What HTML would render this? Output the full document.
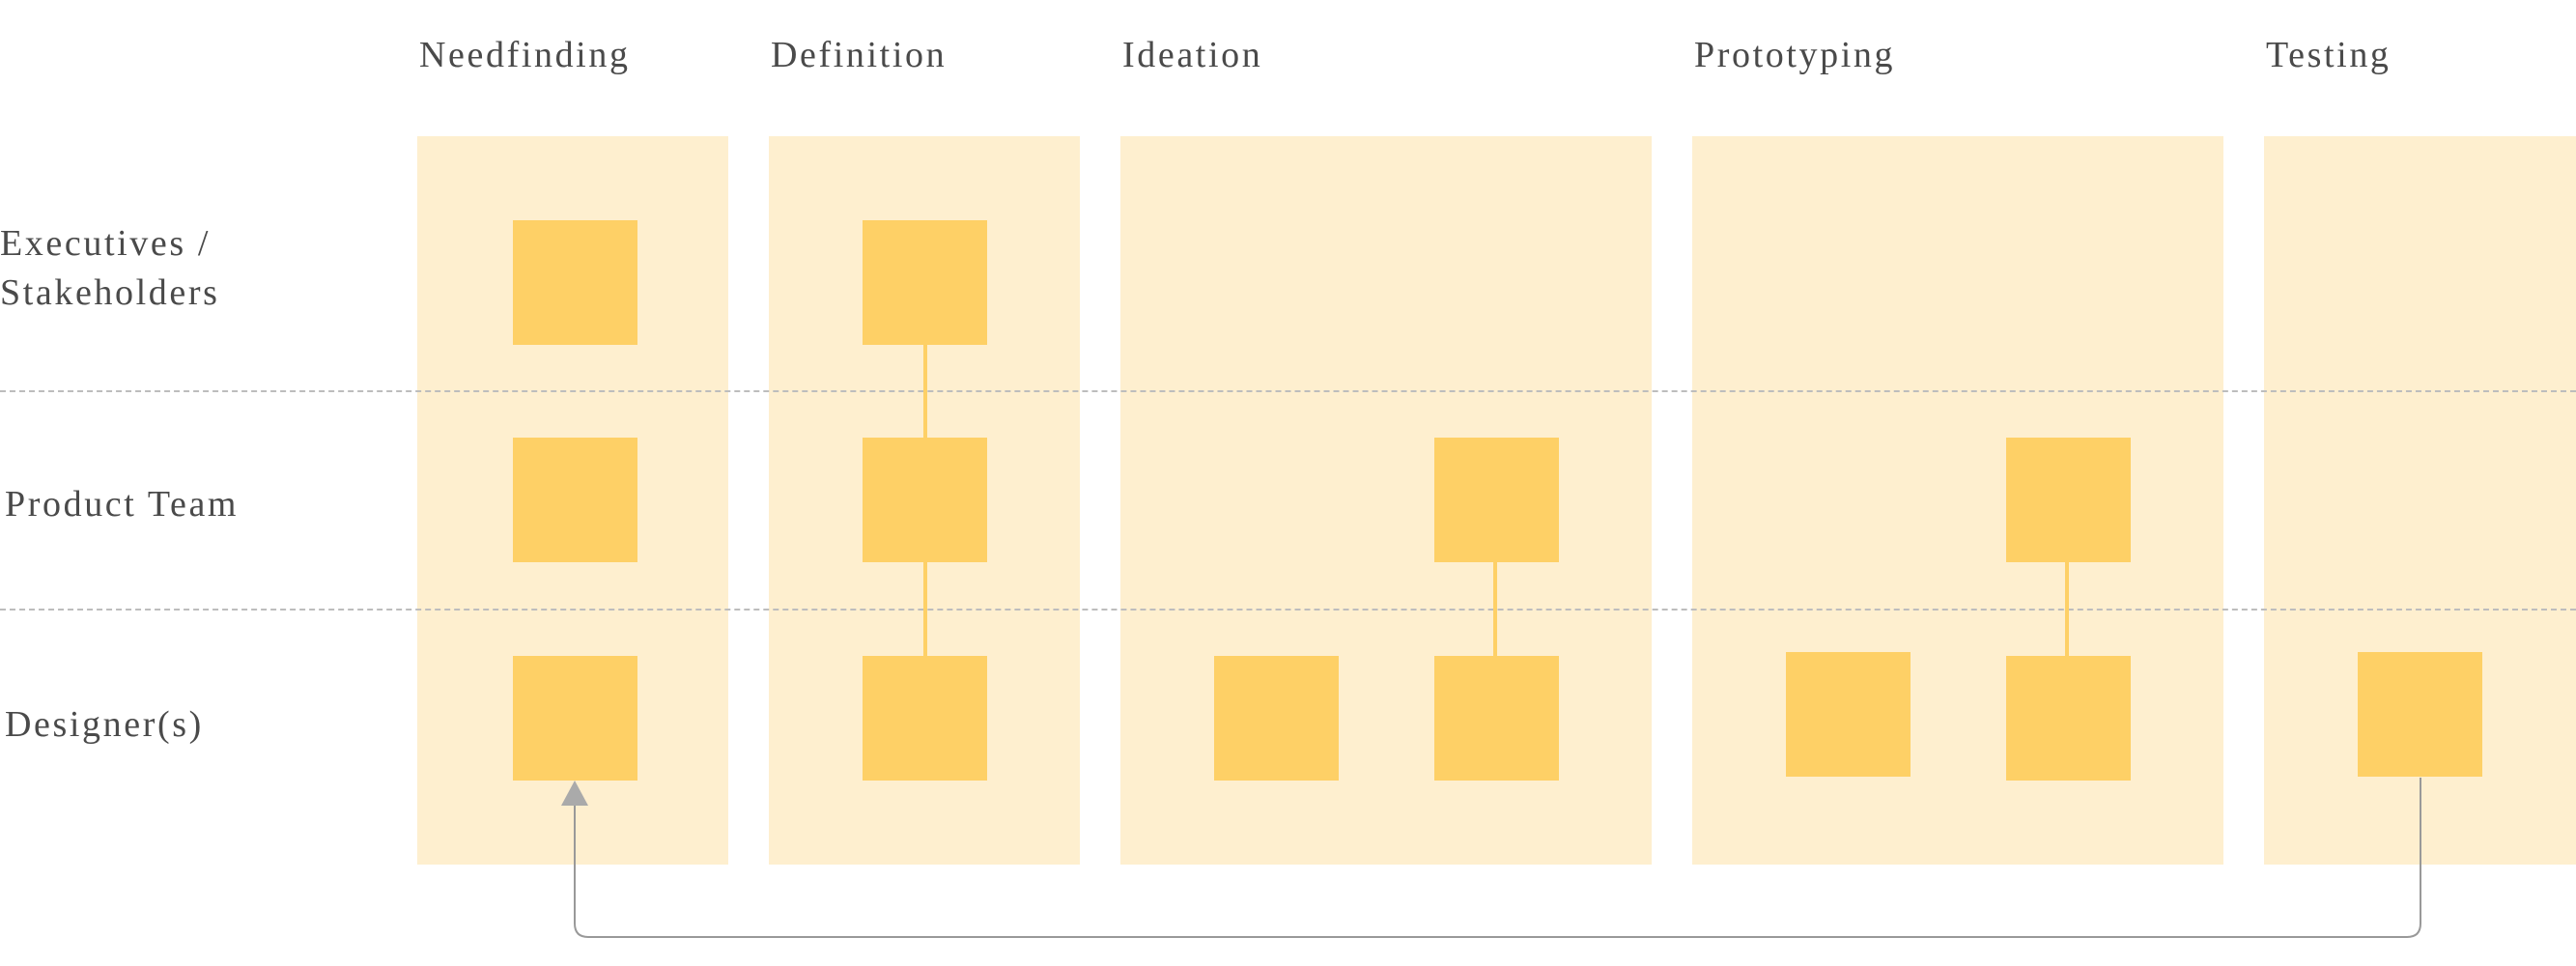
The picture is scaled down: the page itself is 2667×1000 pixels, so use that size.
<!DOCTYPE html>
<html><head><meta charset="utf-8"><style>
body{margin:0;width:2667px;height:1000px;background:#fff;position:relative;overflow:hidden;font-family:"Liberation Serif",serif;color:#4a4a4a}
.col{position:absolute;top:141px;height:754px;background:#FEEFCF}
.sq{position:absolute;width:129px;height:129px;background:#FED066}
.t{position:absolute;font-size:38px;line-height:1;letter-spacing:2.6px;white-space:nowrap}
.h{top:38px}
.dash{position:absolute;left:0;width:2667px;border-top:2px dashed #bdbdbd}
.v{position:absolute;width:4px;background:#FED066}
</style></head><body>
<div class="col" style="left:432px;width:322px"></div>
<div class="col" style="left:796px;width:322px"></div>
<div class="col" style="left:1160px;width:550px"></div>
<div class="col" style="left:1752px;width:550px"></div>
<div class="col" style="left:2344px;width:323px"></div>

<div class="t h" style="left:434px">Needfinding</div>
<div class="t h" style="left:798px">Definition</div>
<div class="t h" style="left:1162px">Ideation</div>
<div class="t h" style="left:1754px">Prototyping</div>
<div class="t h" style="left:2346px">Testing</div>

<div class="t" style="left:0;top:233px">Executives /</div>
<div class="t" style="left:0;top:284px">Stakeholders</div>
<div class="t" style="left:5px;top:503px">Product Team</div>
<div class="t" style="left:5px;top:731px">Designer(s)</div>

<div class="dash" style="top:404px"></div>
<div class="dash" style="top:630px"></div>

<div class="v" style="left:956px;top:357px;height:322px"></div>
<div class="v" style="left:1546px;top:582px;height:97px"></div>
<div class="v" style="left:2138px;top:582px;height:97px"></div>

<div class="sq" style="left:531px;top:228px"></div>
<div class="sq" style="left:531px;top:453px"></div>
<div class="sq" style="left:531px;top:679px"></div>
<div class="sq" style="left:893px;top:228px"></div>
<div class="sq" style="left:893px;top:453px"></div>
<div class="sq" style="left:893px;top:679px"></div>
<div class="sq" style="left:1485px;top:453px"></div>
<div class="sq" style="left:1257px;top:679px"></div>
<div class="sq" style="left:1485px;top:679px"></div>
<div class="sq" style="left:2077px;top:453px"></div>
<div class="sq" style="left:1849px;top:675px"></div>
<div class="sq" style="left:2077px;top:679px"></div>
<div class="sq" style="left:2441px;top:675px"></div>

<svg width="2667" height="1000" style="position:absolute;left:0;top:0">
<path d="M2506 805 V956 Q2506 970 2492 970 H609 Q595 970 595 956 V832" fill="none" stroke="#999" stroke-width="2"/>
<polygon points="595,808 581,834 609,834" fill="#aaa"/>
</svg>
</body></html>
